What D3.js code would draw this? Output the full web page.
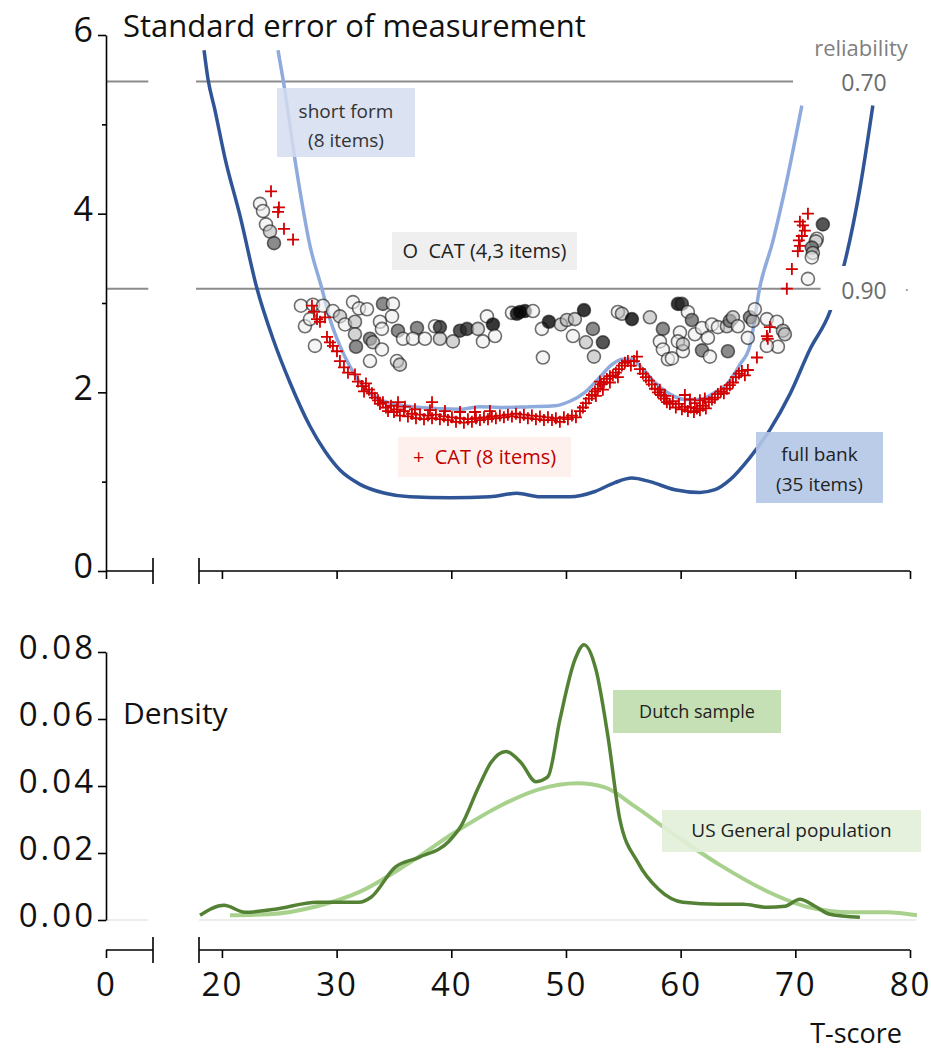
<!DOCTYPE html>
<html><head><meta charset="utf-8">
<script src="https://cdn.jsdelivr.net/npm/d3@7"></script>
<style>
body{margin:0;background:#fff;}
svg{display:block;font-family:"Open Sans",sans-serif;}
text{white-space:pre;}
</style></head>
<body>
<svg id="chart" width="931" height="1050"></svg>
<script>
// ---------------- DATA ----------------
// T-score axis ticks
const xTicks = [0, 20, 30, 40, 50, 60, 70, 80];
const xSegments = [[0, 4], [18, 80]];          // broken x-axis pieces
const semTicks = [0, 2, 4, 6];
const semMinorTicks = [1, 3, 5];
const densTicks = [0, 0.02, 0.04, 0.06, 0.08];

// reliability reference lines (SEM at reliability 0.70 / 0.90)
const relLabels = ["0.70", "0.90"];
const relValues = [5.48, 3.16];
const relEnds = [69.8, 72.2];

// full bank (35 items) SEM curve  [T, SEM]
const fullBank = [[18.44,5.83],[18.78,5.51],[19.39,5.16],[20.27,4.62],[21.57,3.98],[23.06,3.16],[24.45,2.60],[25.93,2.11],[27.68,1.62],[28.99,1.34],[30.29,1.13],[32.04,0.97],[34.22,0.87],[36.40,0.83],[39.88,0.82],[43.37,0.83],[45.72,0.87],[47.73,0.83],[50.35,0.83],[52.53,0.89],[54.27,0.99],[55.75,1.04],[57.32,1.00],[59.50,0.91],[61.68,0.88],[62.99,0.91],[64.29,1.02],[66.04,1.27],[67.78,1.58],[69.53,1.98],[71.27,2.48],[73.01,2.90],[74.32,3.46],[75.63,4.28],[76.76,5.21]];

// short form (8 items) SEM curve
const shortForm = [[24.89,5.83],[25.32,5.51],[26.63,4.39],[27.68,3.64],[28.72,3.16],[29.42,2.82],[30.29,2.52],[31.16,2.29],[32.30,2.07],[33.78,1.92],[35.09,1.87],[37.27,1.83],[40.76,1.81],[42.50,1.84],[44.24,1.83],[46.86,1.84],[49.04,1.85],[50.35,1.90],[51.65,2.00],[52.96,2.17],[54.00,2.31],[54.96,2.37],[55.75,2.37],[56.71,2.26],[57.76,2.11],[59.06,1.98],[60.37,1.92],[61.68,1.92],[62.99,2.00],[64.03,2.09],[65.16,2.31],[66.04,2.52],[66.91,3.18],[68.04,3.69],[68.92,4.17],[70.57,5.21]];

// CAT (4,3 items): [T, SEM, items administered level]
const catVar = [[23.32,4.11,1],[23.58,4.03,1],[23.84,3.88,1],[24.19,3.80,2],[24.54,3.67,3],
[26.89,2.97,1],[27.94,2.98,1],[28.81,2.97,1],[29.68,2.91,1],[30.29,2.85,2],[31.43,3.01,1],[31.95,2.94,1],[32.65,2.93,1],[27.24,2.74,1],[27.68,2.82,1],[30.73,2.76,1],[31.60,2.79,2],[28.11,2.52,1],[31.60,2.65,2],[31.69,2.51,3],
[34.04,2.99,3],[34.91,2.99,1],[34.83,2.85,1],[43.11,2.85,1],[33.78,2.79,1],[33.95,2.71,1],[35.35,2.69,3],[37.01,2.72,3],[38.58,2.74,1],[39.01,2.73,4],[40.76,2.69,4],[41.37,2.71,4],[42.32,2.71,2],[43.63,2.76,5],[45.29,2.89,1],[45.72,2.88,5],[35.79,2.60,1],[36.66,2.60,1],[37.70,2.60,1],[39.01,2.60,2],[40.14,2.57,2],[42.76,2.57,1],[43.81,2.63,1],[32.91,2.60,3],[33.17,2.56,2],[33.95,2.48,1],[32.91,2.35,1],[35.26,2.35,1],[35.52,2.31,2],
[45.99,2.90,5],[46.42,2.91,5],[47.12,2.91,1],[47.90,2.71,1],[48.51,2.79,5],[49.56,2.76,2],[50.08,2.81,2],[50.78,2.82,2],[51.57,2.92,5],[50.61,2.63,1],[52.35,2.71,3],[51.74,2.56,2],[53.22,2.56,4],[52.44,2.40,2],[47.99,2.39,1],[54.53,2.90,1],[54.88,2.88,2],[55.75,2.82,5],[57.32,2.84,2],[58.45,2.71,3],[58.19,2.57,1],[58.45,2.48,1],[58.89,2.37,1],
[59.76,2.99,5],[60.11,2.99,4],[60.63,2.90,1],[60.98,2.81,3],[59.94,2.67,1],[59.76,2.57,1],[60.20,2.46,1],[60.20,2.54,2],[61.24,2.65,1],[61.86,2.72,1],[62.38,2.61,1],[61.86,2.47,3],[62.55,2.40,1],[62.73,2.76,1],[63.25,2.73,1],[64.03,2.74,2],[64.29,2.80,3],[64.56,2.84,2],[64.99,2.74,1],[64.12,2.46,3],[66.04,2.84,3],[66.30,2.80,2],[66.47,2.93,1],[65.86,2.61,1],[67.52,2.82,1],[68.39,2.79,1],[68.92,2.69,2],[69.09,2.65,2],[68.48,2.51,1],[67.52,2.52,1],[59.24,2.38,1],
[72.40,3.88,4],[71.88,3.72,1],[71.79,3.69,2],[71.44,3.62,3],[71.53,3.56,2],[71.44,3.51,1],[71.10,3.27,1]];

// CAT (8 items): [T, SEM]
const cat8 = [[24.28,4.25],[24.97,4.07],[24.89,4.02],[25.41,3.83],[26.20,3.71],
[27.85,2.97],[28.03,2.90],[28.29,2.82],[28.55,2.79],[28.99,2.84],[29.16,2.62],[29.42,2.56],[29.68,2.52],[30.03,2.46],[30.29,2.35],[30.64,2.28],[30.99,2.22],[31.60,2.20],[31.86,2.12],[32.21,2.07],[32.39,2.01],
[32.56,2.10],[32.82,2.03],[33.08,1.99],[33.34,1.94],[33.61,1.91],[33.78,1.87],[34.04,1.89],[34.30,1.83],[34.48,1.79],[34.74,1.85],[35.00,1.78],[35.26,1.81],[35.52,1.74],[35.87,1.79],[36.22,1.73],[36.57,1.76],[36.92,1.71],[37.27,1.75],[37.62,1.70],[37.97,1.74],[38.32,1.71],[38.66,1.75],[39.01,1.70],[39.36,1.73],[39.71,1.69],[40.06,1.72],[40.41,1.67],[40.76,1.71],[41.10,1.66],[41.45,1.70],[41.80,1.67],[42.15,1.71],[42.50,1.69],[42.85,1.72],[43.20,1.70],[43.54,1.73],[43.89,1.71],[44.24,1.74],[44.59,1.72],[44.94,1.75],
[35.96,1.84],[36.83,1.81],[38.14,1.80],[39.45,1.79],[40.76,1.78],[42.06,1.78],[43.37,1.79],[38.32,1.89],[35.35,1.89],
[45.29,1.73],[45.64,1.76],[45.99,1.72],[46.33,1.75],[46.68,1.71],[47.03,1.74],[47.38,1.70],[47.73,1.73],[48.08,1.69],[48.43,1.72],[48.78,1.69],[49.12,1.71],[49.47,1.67],[49.82,1.72],[50.17,1.70],[50.52,1.74],[50.87,1.72],[51.22,1.79],[51.48,1.83],[51.74,1.88],[52.00,1.93],[52.26,1.97],[52.53,2.01],[52.79,2.04],[53.05,2.09],[53.31,2.11],[53.57,2.15],[53.83,2.18],[54.09,2.19],[54.35,2.22],[54.62,2.26],[54.88,2.30],[55.14,2.33],[55.40,2.35],[55.66,2.30],[55.93,2.35],[56.19,2.40],[56.45,2.26],[56.71,2.21],[56.97,2.17],[57.23,2.13],[57.49,2.09],[57.76,2.04],[58.02,2.00],[58.28,1.97],[58.54,1.93],[58.80,1.89],
[52.61,1.96],[53.22,2.03],[53.83,2.11],[54.53,2.17],[52.96,2.12],
[59.06,1.87],[59.32,1.90],[59.58,1.83],[59.85,1.87],[60.11,1.81],[60.37,1.84],[60.63,1.79],[60.89,1.83],[61.16,1.78],[61.42,1.82],[61.68,1.80],[61.94,1.85],[62.20,1.82],[62.46,1.89],[62.73,1.92],[62.99,1.94],[63.25,1.98],[63.51,2.01],[63.77,1.99],[64.03,2.04],[64.29,2.08],[64.56,2.11],[64.82,2.17],[65.08,2.21],[65.34,2.24],[65.60,2.19],[65.86,2.25],[66.65,2.39],[67.52,2.63],[67.60,2.60],[67.78,2.73],[69.26,3.16],
[58.63,1.96],[60.81,1.92],[61.68,1.91],[61.24,1.88],[62.11,1.93],[60.37,1.97],[58.19,2.03],
[71.10,4.00],[70.40,3.91],[70.66,3.87],[70.83,3.81],[70.57,3.75],[70.31,3.70],[70.40,3.64],[70.22,3.58],[69.70,3.38]];

// density curves  [T, density]
const dutch = [[18.09,0.0014],[20.18,0.0044],[22.01,0.0023],[24.63,0.0032],[28.29,0.0053],[31.95,0.0053],[33.00,0.0068],[35.09,0.0157],[37.18,0.0187],[39.80,0.0235],[40.84,0.0280],[42.41,0.0399],[43.46,0.0470],[44.77,0.0503],[46.07,0.0470],[47.38,0.0413],[48.43,0.0428],[49.47,0.0598],[50.78,0.0777],[51.57,0.0822],[52.61,0.0748],[53.66,0.0548],[54.70,0.0300],[56.27,0.0172],[58.10,0.0091],[60.20,0.0053],[63.34,0.0047],[65.43,0.0047],[67.52,0.0038],[69.09,0.0041],[70.40,0.0062],[71.71,0.0041],[73.01,0.0017],[75.63,0.0008]];
const usPop = [[20.7,0.0014],[24.1,0.0017],[28.29,0.0041],[31.95,0.0083],[36.13,0.0166],[40.32,0.0262],[44.5,0.0345],[47.64,0.0390],[51.04,0.0408],[53.40,0.0396],[56.01,0.0339],[59.15,0.0262],[63.34,0.0166],[67.52,0.0086],[71.18,0.0038],[74.84,0.0023],[77.98,0.0023],[80.6,0.0014]];

// ---------------- CHART ----------------
const svg = d3.select("#chart");
const x = d3.scaleLinear().domain([0, 4, 18, 80]).range([106, 153, 199, 910]);
const ySem = d3.scaleLinear().domain([0, 6]).range([571, 35]);
const yDen = d3.scaleLinear().domain([0, 0.08]).range([920, 652]);
const AX = "#000";
const NUMFONT = "'Open Sans',sans-serif";

function brokenXAxis(yPos, labels) {
  const g = svg.append("g");
  xSegments.forEach(s => g.append("line").attr("x1", x(s[0])).attr("x2", x(s[1]))
    .attr("y1", yPos).attr("y2", yPos).attr("stroke", AX).attr("stroke-width", 1.6));
  [xSegments[0][1], xSegments[1][0]].forEach(v => g.append("line").attr("x1", x(v)).attr("x2", x(v))
    .attr("y1", yPos - 13).attr("y2", yPos + 13).attr("stroke", AX).attr("stroke-width", 1.6));
  const ax = d3.axisBottom(x).tickValues(xTicks).tickSize(8).tickSizeOuter(0)
    .tickFormat(labels ? d3.format("d") : "");
  const a = g.append("g").attr("transform", `translate(0,${yPos})`).call(ax);
  a.select(".domain").remove();
  a.selectAll(".tick line").attr("stroke", AX).attr("stroke-width", 1.6);
  a.selectAll(".tick text").attr("font-size", 33).attr("fill", "#111").attr("dy", "1.05em")
    .attr("letter-spacing", 2).style("font-family", NUMFONT);
}

// --- top panel ---
relValues.forEach((v, i) => {
  svg.append("line").attr("x1", x(0)).attr("x2", x(3.6)).attr("y1", ySem(v)).attr("y2", ySem(v))
    .attr("stroke", "#8c8c8c").attr("stroke-width", 2);
  svg.append("line").attr("x1", x(17.1)).attr("x2", x(relEnds[i])).attr("y1", ySem(v)).attr("y2", ySem(v))
    .attr("stroke", "#8c8c8c").attr("stroke-width", 2);
});

const lineSem = d3.line().x(d => x(d[0])).y(d => ySem(d[1])).curve(d3.curveMonotoneX);
svg.append("path").datum(fullBank).attr("d", lineSem).attr("fill", "none")
  .attr("stroke", "#2f5597").attr("stroke-width", 3.5);
svg.append("path").datum(shortForm).attr("d", lineSem).attr("fill", "none")
  .attr("stroke", "#8faadc").attr("stroke-width", 3.5);

// CAT variable circles
const shade = d3.scaleOrdinal().domain([1, 2, 3, 4, 5]).range(["#eeeeee", "#b8b8b8", "#6e6e6e", "#2a2a2a", "#050505"]);
svg.append("g").selectAll("circle").data(catVar).join("circle")
  .attr("cx", d => x(d[0])).attr("cy", d => ySem(d[1])).attr("r", 6.5)
  .attr("fill", d => shade(d[2])).attr("fill-opacity", d => d[2] > 2 ? 0.8 : 0.6)
  .attr("stroke", "#111").attr("stroke-opacity", 0.6).attr("stroke-width", 1.6);

// CAT 8 crosses
svg.append("g").selectAll("path").data(cat8).join("path")
  .attr("transform", d => `translate(${x(d[0])},${ySem(d[1])})`)
  .attr("d", "M-6,0H6M0,-6V6").attr("stroke", "#d20000").attr("stroke-width", 1.8).attr("fill", "none");

// axes top
const yA = svg.append("g").attr("transform", "translate(106,0)")
  .call(d3.axisLeft(ySem).tickValues(semTicks).tickSize(8).tickSizeOuter(0).tickFormat(d3.format("d")));
yA.select(".domain").attr("stroke", AX).attr("stroke-width", 1.6);
yA.selectAll(".tick line").attr("stroke-width", 1.6);
yA.selectAll(".tick text").attr("font-size", 34).attr("fill", "#111").attr("x", -13).attr("dy", "0.2em")
  .style("font-family", NUMFONT);
const yM = svg.append("g").attr("transform", "translate(106,0)")
  .call(d3.axisLeft(ySem).tickValues(semMinorTicks).tickSize(4).tickFormat(""));
yM.select(".domain").remove();
yM.selectAll(".tick line").attr("stroke-width", 1.6);
brokenXAxis(571, false);

svg.append("text").attr("x", 123).attr("y", 37).attr("font-size", 31).attr("fill", "#111")
  .text("Standard error of measurement");

// reliability labels
svg.append("rect").attr("x", 823).attr("y", 266).attr("width", 92).attr("height", 44).attr("fill", "#fff");
svg.append("text").attr("x", 861).attr("y", 56).attr("text-anchor", "middle").attr("font-size", 22).attr("fill", "#7f7f7f").text("reliability");
relLabels.forEach((t, i) => svg.append("text").attr("x", 864).attr("y", ySem(relValues[i]) + 10)
  .attr("text-anchor", "middle").attr("font-size", 23).attr("fill", "#6b6b6b").text(t));
svg.append("text").attr("x", 905).attr("y", ySem(relValues[1]) + 6).attr("font-size", 14).attr("fill", "#777").text("·");

// legend boxes
function box(x0, y0, w, h, fill, op, lines, color, fs) {
  svg.append("rect").attr("x", x0).attr("y", y0).attr("width", w).attr("height", h)
    .attr("fill", fill).attr("fill-opacity", op);
  lines.forEach(l => svg.append("text").attr("x", x0 + w / 2).attr("y", l[1])
    .attr("text-anchor", "middle").attr("font-size", fs).attr("fill", color).text(l[0]));
}
box(277, 88, 138, 69, "#d5ddf0", 0.85, [["short form", 118], ["(8 items)", 147]], "#333", 19);
box(392, 232, 185, 38, "#efefef", 1, [["O  CAT (4,3 items)", 258]], "#222", 20);
box(398, 437, 173, 40, "#fdeeeb", 0.9, [["+  CAT (8 items)", 464]], "#c00000", 20);
box(756, 432, 127, 71, "#b4c7e7", 0.9, [["full bank", 461], ["(35 items)", 491]], "#222", 19);

// --- bottom panel ---
xSegments.forEach(s => svg.append("line").attr("x1", x(s[0])).attr("x2", x(s[1] === 4 ? 3.6 : 80.5))
  .attr("y1", yDen(0)).attr("y2", yDen(0)).attr("stroke", "#d9d9d9").attr("stroke-width", 1.2));
const lineDen = d3.line().x(d => x(d[0])).y(d => yDen(d[1])).curve(d3.curveMonotoneX);
svg.append("path").datum(usPop).attr("d", lineDen).attr("fill", "none").attr("stroke", "#a9d18e").attr("stroke-width", 4);
svg.append("path").datum(dutch).attr("d", lineDen).attr("fill", "none").attr("stroke", "#548235").attr("stroke-width", 3.5);

const dA = svg.append("g").attr("transform", "translate(106,0)")
  .call(d3.axisLeft(yDen).tickValues(densTicks).tickSize(8).tickSizeOuter(0).tickFormat(d3.format(".2f")));
dA.select(".domain").attr("stroke", AX).attr("stroke-width", 1.6);
dA.selectAll(".tick line").attr("stroke-width", 1.6);
dA.selectAll(".tick text").attr("font-size", 33).attr("fill", "#111").attr("x", -10).attr("dy", "0.2em")
  .attr("letter-spacing", 3).style("font-family", NUMFONT);
brokenXAxis(950, true);

svg.append("text").attr("x", 123).attr("y", 724).attr("font-size", 30).attr("fill", "#111").text("Density");
svg.append("text").attr("x", 902).attr("y", 1043).attr("text-anchor", "end").attr("font-size", 27).attr("fill", "#111").text("T-score");

box(613, 690, 168, 43, "#c5e0b4", 1, [["Dutch sample", 718]], "#222", 18);
box(662, 810, 259, 42, "#e2f0d9", 0.9, [["US General population", 837]], "#222", 19);
</script>
</body></html>
